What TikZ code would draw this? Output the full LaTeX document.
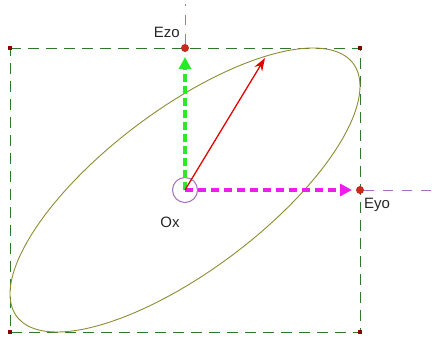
\documentclass[tikz,border=0pt]{standalone}
\usepackage{fontspec}
\setmainfont{Liberation Sans}
\usetikzlibrary{arrows.meta, positioning}

\definecolor{framegreen}{RGB}{45,120,45}
\definecolor{ellolive}{RGB}{140,140,50}
\definecolor{ezgreen}{RGB}{40,235,40}
\definecolor{eymag}{RGB}{235,30,235}
\definecolor{axpurple}{RGB}{165,110,190}
\definecolor{dotred}{RGB}{200,40,30}

\begin{document}
\begin{tikzpicture}[x=1pt, y=-1pt,
  frame/.style    = {draw=framegreen, line width=1pt, dash pattern=on 11pt off 7pt},
  axisline/.style = {draw=axpurple, line width=1pt, dash pattern=on 10pt off 9pt},
  tipdot/.style   = {circle, fill=dotred, inner sep=0pt, minimum size=8pt},
  cornerdot/.style= {rectangle, fill=red!55!black, inner sep=0pt, minimum size=4pt},
  lbl/.style      = {font=\fontsize{15}{17}\selectfont, text=black!85, inner sep=0pt},
  zarr/.style     = {-{Triangle[length=12pt, width=12pt]}, ezgreen,
                     line width=4.5pt, dash pattern=on 8pt off 4pt},
  yarr/.style     = {-{Triangle[length=12pt, width=12pt]}, eymag,
                     line width=4.5pt, dash pattern=on 8pt off 5pt},
  rarr/.style     = {-{Stealth[length=13pt, width=9pt]}, red!90!black, line width=1.3pt}
]
\useasboundingbox (0,0) rectangle (432,338);

% frame of the ellipse
\coordinate (O)  at (185,190);
\coordinate (tl) at (10,48);
\coordinate (tr) at (360,48);
\coordinate (br) at (360,332);
\coordinate (bl) at (10,332);
\draw[frame] (tl) -- (tr) -- (br) -- (bl) -- cycle;
\foreach \c in {tl,tr,br,bl}
  \node[cornerdot] at (\c) {};

% axis ends
\node[tipdot] (ezo) at (185,48) {};
\node[tipdot] (eyo) at (360,190) {};
\coordinate (ztop) at (185,4);
\coordinate (yend) at (432,190);
\draw[axisline] (ezo) -- (ztop);
\draw[axisline] (eyo) -- (yend);

% polarisation ellipse
\draw[ellolive, line width=0.9pt] plot[domain=0:360, samples=150, smooth]
  ({185+175*cos(\x)}, {190-142*cos(\x-43)});

% origin and vectors
\node[circle, draw=axpurple, line width=1pt, minimum size=25pt, inner sep=0pt] (ox) at (O) {};
\coordinate (ztip) at (185,57);
\coordinate (ytip) at (352,190);
\coordinate (rtip) at (265,58);
\draw[zarr] (O) -- (ztip);
\draw[yarr] (O) -- (ytip);
\draw[rarr] (O) -- (rtip);

% labels
\node[lbl, anchor=base east] at (180,37) {Ezo};
\node[lbl, anchor=base] at (170,227) {Ox};
\node[lbl, anchor=base west] at (364,208) {Eyo};
\end{tikzpicture}
\end{document}
